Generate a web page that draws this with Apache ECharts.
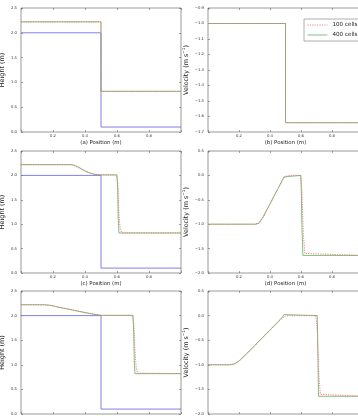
<!DOCTYPE html>
<html>
<head>
<meta charset="utf-8">
<script src="https://cdn.jsdelivr.net/npm/echarts@6/dist/echarts.min.js"></script>
<style>
    html, body { margin: 0; padding: 0; background: #fff; }
    #main { width: 358px; height: 416px; }
</style>
</head>
<body>
<div id="main"></div>
<script>
// ---- data ----
// initial state (t = 0)
var posInit = [0, 0.5, 0.5, 1];
var bedStep = [2.0, 2.0, 0.1, 0.1];
var hInit = [2.22, 2.22, 0.82, 0.82];
var uInit = [-1.0, -1.0, -1.64, -1.64];

// second time
var posMidH400 = [0, 0.32, 0.34, 0.37, 0.40, 0.43, 0.46, 0.50, 0.600, 0.604, 0.608, 0.612, 1];
var hMid400 = [2.22, 2.22, 2.20, 2.15, 2.09, 2.05, 2.02, 2.01, 2.01, 1.75, 1.10, 0.82, 0.82];
var posMidH100 = [0, 0.31, 0.34, 0.37, 0.40, 0.43, 0.46, 0.50, 0.595, 0.605, 0.612, 0.62, 0.63, 1];
var hMid100 = [2.22, 2.22, 2.19, 2.14, 2.09, 2.05, 2.02, 2.01, 2.01, 1.85, 1.20, 0.90, 0.82, 0.82];
var posMidU400 = [0, 0.31, 0.33, 0.35, 0.38, 0.41, 0.44, 0.47, 0.49, 0.50, 0.600, 0.605, 0.612, 1];
var uMid400 = [-1.0, -1.0, -0.97, -0.88, -0.70, -0.52, -0.34, -0.16, -0.03, 0.0, 0.0, -0.9, -1.64, -1.64];
var posMidU100 = [0, 0.30, 0.33, 0.36, 0.39, 0.42, 0.45, 0.48, 0.50, 0.52, 0.595, 0.605, 0.615, 0.625, 1];
var uMid100 = [-1.0, -1.0, -0.98, -0.84, -0.65, -0.46, -0.28, -0.10, -0.02, 0.0, 0.0, -0.3, -1.2, -1.60, -1.64];

// third time
var posEndH400 = [0, 0.15, 0.18, 0.21, 0.25, 0.30, 0.35, 0.40, 0.45, 0.50, 0.700, 0.704, 0.708, 0.712, 1];
var hEnd400 = [2.22, 2.22, 2.21, 2.19, 2.16, 2.13, 2.095, 2.062, 2.03, 2.005, 2.005, 1.7, 1.1, 0.82, 0.82];
var posEndH100 = [0, 0.14, 0.18, 0.21, 0.25, 0.30, 0.35, 0.40, 0.45, 0.50, 0.695, 0.705, 0.712, 0.72, 0.728, 1];
var hEnd100 = [2.22, 2.22, 2.21, 2.19, 2.16, 2.13, 2.095, 2.062, 2.03, 2.005, 2.005, 1.85, 1.3, 0.95, 0.83, 0.82];
var posEndU400 = [0, 0.14, 0.17, 0.20, 0.25, 0.30, 0.35, 0.40, 0.45, 0.48, 0.49, 0.50, 0.705, 0.709, 0.713, 1];
var uEnd400 = [-1.0, -1.0, -0.98, -0.92, -0.77, -0.61, -0.45, -0.29, -0.13, -0.03, 0.02, 0.0, 0.0, -0.8, -1.64, -1.64];
var posEndU100 = [0, 0.13, 0.17, 0.20, 0.25, 0.30, 0.35, 0.40, 0.45, 0.48, 0.50, 0.52, 0.695, 0.705, 0.715, 0.725, 1];
var uEnd100 = [-1.0, -1.0, -0.99, -0.93, -0.78, -0.62, -0.46, -0.30, -0.14, -0.05, -0.01, 0.0, 0.0, -0.3, -1.2, -1.6, -1.64];

var captions = ['(a) Position (m)', '(b) Position (m)', '(c) Position (m)', '(d) Position (m)', '(e) Position (m)', '(f) Position (m)'];
var legendNames = ['100 cells', '400 cells'];

// ---- helpers ----
function zip(xs, ys) {
    var out = [];
    for (var i = 0; i < xs.length; i++) out.push([xs[i], ys[i]]);
    return out;
}
function fmtY(v) {
    var s = Math.abs(v).toFixed(1);
    return v < -1e-9 ? '\u2212' + s : s;
}
function fmtX(v) {
    if (v < 0.01 || v > 0.99) return '';
    return v.toFixed(1);
}

var FONT = 'DejaVu Sans';
var BLUE = '#7570e0', GREEN = '#74b874', RED = '#ee7373';

// panel layout: left column / right column (right one runs past the edge)
var grids = [
    {left: 21, top: 8, width: 160, height: 124},
    {left: 208, top: 8, width: 155, height: 124},
    {left: 21, top: 151, width: 160, height: 122},
    {left: 208, top: 151, width: 155, height: 122},
    {left: 21, top: 291, width: 160, height: 123},
    {left: 208, top: 291, width: 155, height: 123}
];
var yRanges = [
    [0, 2.5, 0.5], [-1.7, -0.9, 0.1],
    [0, 2.5, 0.5], [-2.0, 0.5, 0.5],
    [0, 2.5, 0.5], [-2.0, 0.5, 0.5]
];

var tickStyle = {inside: true, length: 2, lineStyle: {color: '#666', width: 0.6}};
var xAxes = [], yAxes = [], series = [];
grids.forEach(function (g, i) {
    g.show = true;
    g.borderColor = '#999';
    g.borderWidth = 1;
    g.containLabel = false;
    g.outerBoundsMode = 'none';
    // bottom x axis
    xAxes.push({
        type: 'value', gridIndex: i, position: 'bottom', min: 0, max: 1, interval: 0.2,
        name: captions[i], nameLocation: 'middle', nameGap: 8,
        nameTextStyle: {fontFamily: FONT, fontSize: 5.4, color: '#222'},
        axisLine: {show: false, onZero: false},
        axisTick: tickStyle,
        axisLabel: {fontFamily: FONT, fontSize: 3.8, color: '#333', margin: 2, formatter: fmtX},
        splitLine: {show: false}
    });
    // top mirror ticks
    xAxes.push({
        type: 'value', gridIndex: i, position: 'top', min: 0, max: 1, interval: 0.2,
        axisLine: {show: false, onZero: false},
        axisTick: tickStyle,
        axisLabel: {show: false}, splitLine: {show: false}
    });
    var r = yRanges[i];
    var isVel = (i % 2 === 1);
    yAxes.push({
        type: 'value', gridIndex: i, position: 'left', min: r[0], max: r[1], interval: r[2],
        name: isVel ? 'Velocity (m s{sup|\u22121})' : 'Height (m)',
        nameLocation: 'middle', nameGap: 7,
        nameTextStyle: {
            fontFamily: FONT, fontSize: 6.4, color: '#222', lineHeight: 9,
            rich: {sup: {fontFamily: FONT, fontSize: 4.2, color: '#222', verticalAlign: 'top', lineHeight: 9}}
        },
        axisLine: {show: false, onZero: false},
        axisTick: tickStyle,
        axisLabel: {fontFamily: FONT, fontSize: 3.8, color: '#333', margin: 4, formatter: fmtY},
        splitLine: {show: false}
    });
    yAxes.push({
        type: 'value', gridIndex: i, position: 'right', min: r[0], max: r[1], interval: r[2],
        axisLine: {show: false, onZero: false},
        axisTick: tickStyle,
        axisLabel: {show: false}, splitLine: {show: false}
    });
});

function addLine(panel, name, xs, ys, color, dotted) {
    series.push({
        name: name, type: 'line', xAxisIndex: panel * 2, yAxisIndex: panel * 2,
        data: zip(xs, ys), symbol: 'none', silent: true,
        lineStyle: {color: color, width: 0.9, type: dotted ? [1.2, 1.2] : 'solid'},
        itemStyle: {color: color}
    });
}

// heights: blue step, then 400 cells (green), 100 cells (red dotted)
addLine(0, 'bed', posInit, bedStep, BLUE, false);
addLine(0, '400 cells', posInit, hInit, GREEN, false);
addLine(0, '100 cells', posInit, hInit, RED, true);
addLine(1, '400 cells', posInit, uInit, GREEN, false);
addLine(1, '100 cells', posInit, uInit, RED, true);

addLine(2, 'bed', posInit, bedStep, BLUE, false);
addLine(2, '400 cells', posMidH400, hMid400, GREEN, false);
addLine(2, '100 cells', posMidH100, hMid100, RED, true);
addLine(3, '400 cells', posMidU400, uMid400, GREEN, false);
addLine(3, '100 cells', posMidU100, uMid100, RED, true);

addLine(4, 'bed', posInit, bedStep, BLUE, false);
addLine(4, '400 cells', posEndH400, hEnd400, GREEN, false);
addLine(4, '100 cells', posEndH100, hEnd100, RED, true);
addLine(5, '400 cells', posEndU400, uEnd400, GREEN, false);
addLine(5, '100 cells', posEndU100, uEnd100, RED, true);

var chart = echarts.init(document.getElementById('main'), null, {renderer: 'canvas'});
chart.setOption({
    animation: false,
    backgroundColor: '#fff',
    grid: grids,
    xAxis: xAxes,
    yAxis: yAxes,
    legend: {
        data: legendNames, orient: 'vertical', left: 304, top: 19,
        itemWidth: 20, itemHeight: 6, itemGap: 4,
        padding: [3, 4, 3, 3],
        borderColor: '#999', borderWidth: 0.8, backgroundColor: '#fff',
        itemStyle: {opacity: 0},
        lineStyle: {width: 0.9},
        textStyle: {fontFamily: FONT, fontSize: 5.6, color: '#222'}
    },
    series: series
});
</script>
</body>
</html>
